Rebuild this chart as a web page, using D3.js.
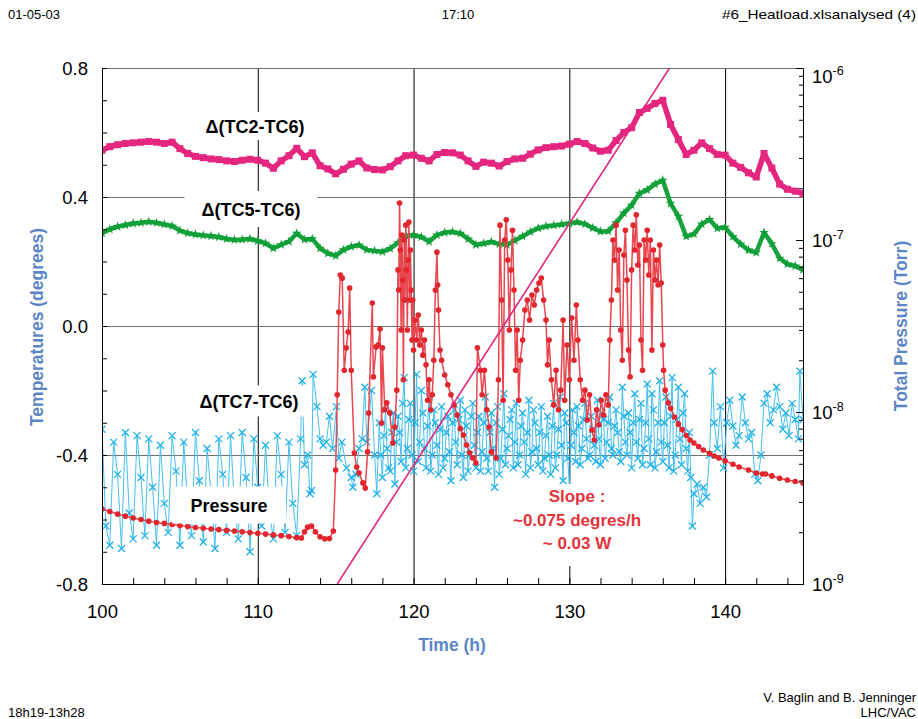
<!DOCTYPE html>
<html lang="en">
<head>
<meta charset="UTF-8">
<title>#6 Heatload</title>
<script src="https://d3js.org/d3.v7.min.js"></script>
<style>
  body { margin: 0; background: #fff; }
  svg { display: block; font-family: "Liberation Sans", Arial, Helvetica, sans-serif; }
  .small { font-size: 13px; fill: #000; }
  .tick text { font-size: 18.5px; fill: #000; font-family: "Liberation Sans", Arial, sans-serif; }
  .title { font-size: 17.5px; font-weight: bold; fill: #5b86c6; }
  .lbl { font-size: 18px; font-weight: bold; fill: #000; }
  .slope { font-size: 17px; font-weight: bold; fill: #e3343c; }
</style>
</head>
<body>
<svg width="918" height="719"></svg>
<script>
// time grid for the two smooth temperature differences
const gridStart = 100, gridStep = 0.5;

// Δ(TC2-TC6), degrees, every 0.5 h from 100 h to 145 h
const tc2Values = [
  0.545, 0.556, 0.562, 0.566, 0.568, 0.570, 0.572, 0.570, 0.566, 0.570,
  0.550, 0.535, 0.526, 0.522, 0.518, 0.516, 0.512, 0.510, 0.514, 0.517,
  0.514, 0.505, 0.489, 0.512, 0.528, 0.551, 0.525, 0.537, 0.497, 0.487,
  0.472, 0.486, 0.502, 0.512, 0.490, 0.485, 0.484, 0.494, 0.512, 0.528,
  0.530, 0.520, 0.512, 0.532, 0.538, 0.537, 0.530, 0.512, 0.495, 0.508,
  0.505, 0.496, 0.510, 0.518, 0.520, 0.533, 0.546, 0.553, 0.556, 0.558,
  0.564, 0.572, 0.566, 0.552, 0.542, 0.545, 0.575, 0.600, 0.615, 0.662,
  0.675, 0.690, 0.700, 0.625, 0.578, 0.532, 0.545, 0.568, 0.550, 0.532,
  0.530, 0.505, 0.492, 0.475, 0.462, 0.535, 0.490, 0.440, 0.424, 0.418,
  0.411
];

// Δ(TC5-TC6), degrees, same grid
const tc5Values = [
  0.288, 0.300, 0.308, 0.313, 0.318, 0.320, 0.323, 0.320, 0.315, 0.310,
  0.296, 0.288, 0.284, 0.281, 0.279, 0.276, 0.270, 0.267, 0.268, 0.270,
  0.264, 0.256, 0.241, 0.252, 0.262, 0.287, 0.268, 0.270, 0.241, 0.225,
  0.218, 0.236, 0.246, 0.251, 0.236, 0.233, 0.230, 0.240, 0.258, 0.280,
  0.282, 0.276, 0.262, 0.282, 0.290, 0.292, 0.287, 0.270, 0.252, 0.256,
  0.261, 0.254, 0.252, 0.265, 0.278, 0.292, 0.303, 0.309, 0.312, 0.315,
  0.318, 0.322, 0.316, 0.304, 0.293, 0.294, 0.320, 0.350, 0.375, 0.411,
  0.422, 0.440, 0.452, 0.380, 0.340, 0.278, 0.285, 0.316, 0.330, 0.303,
  0.306, 0.277, 0.254, 0.235, 0.228, 0.290, 0.255, 0.210, 0.192, 0.186,
  0.174
];

// Δ(TC7-TC6), [hour, degrees]
const tc7Points = [
  [100.00,-0.32],[100.25,-0.62],[100.50,-0.68],[100.75,-0.36],[101.00,-0.46],[101.25,-0.69],
  [101.50,-0.33],[101.75,-0.58],[102.00,-0.66],[102.25,-0.34],[102.50,-0.47],[102.75,-0.65],
  [103.00,-0.35],[103.25,-0.50],[103.50,-0.68],[103.75,-0.37],[104.00,-0.55],[104.25,-0.64],
  [104.50,-0.34],[104.75,-0.45],[105.00,-0.68],[105.25,-0.36],[105.50,-0.56],[105.75,-0.65],
  [106.00,-0.33],[106.25,-0.48],[106.50,-0.67],[106.75,-0.38],[107.00,-0.52],[107.25,-0.69],
  [107.50,-0.35],[107.75,-0.46],[108.00,-0.64],[108.25,-0.34],[108.50,-0.55],[108.75,-0.66],
  [109.00,-0.33],[109.25,-0.47],[109.50,-0.70],[109.75,-0.35],[110.00,-0.50],[110.25,-0.62],
  [110.50,-0.37],[110.75,-0.58],[111.00,-0.66],[111.25,-0.34],[111.50,-0.46],[111.75,-0.64],
  [112.00,-0.36],[112.25,-0.55],[112.50,-0.65],[112.75,-0.35],[112.85,-0.17],[113.00,-0.43],
  [113.20,-0.40],[113.35,-0.52],[113.45,-0.51],[113.55,-0.15],[113.80,-0.25],[114.00,-0.35],
  [114.20,-0.37],[114.40,-0.36],[114.60,-0.28],[114.80,-0.38],[115.05,-0.25],[115.20,-0.41],
  [115.40,-0.36],[115.70,-0.44],[116.00,-0.47],[116.10,-0.50],[116.30,-0.46],[116.50,-0.38],
  [116.70,-0.35],[116.87,-0.19],[117.00,-0.36],[117.30,-0.20],[117.50,-0.40],[117.64,-0.52],
  [117.8,-0.30],[118.0,-0.47],[118.2,-0.26],[118.4,-0.44],[118.6,-0.33],[118.8,-0.49],
  [119.0,-0.28],[119.2,-0.42],[119.4,-0.16],[119.6,-0.38],[119.8,-0.24],[120.0,-0.45],
  [120.2,-0.15],[120.4,-0.36],[120.6,-0.27],[120.8,-0.44],[121.0,-0.22],[121.2,-0.40],
  [121.4,-0.30],[121.6,-0.46],[121.8,-0.25],[122.0,-0.41],[122.2,-0.28],[122.4,-0.48],
  [122.6,-0.26],[122.8,-0.43],[123.0,-0.23],[123.2,-0.47],[123.4,-0.31],[123.6,-0.40],
  [123.8,-0.24],[124.0,-0.44],[124.2,-0.28],[124.4,-0.39],[124.6,-0.22],[124.8,-0.45],
  [125.0,-0.27],[125.2,-0.50],[125.4,-0.25],[125.6,-0.41],[125.8,-0.21],[126.0,-0.38],
  [126.2,-0.29],[126.4,-0.44],[126.6,-0.24],[126.8,-0.40],[127.0,-0.27],[127.2,-0.46],
  [127.4,-0.23],[127.6,-0.39],[127.8,-0.30],[128.0,-0.43],[128.2,-0.25],[128.4,-0.41],
  [128.6,-0.28],[128.8,-0.46],[129.0,-0.24],[129.2,-0.40],[129.4,-0.22],[129.6,-0.48],
  [129.8,-0.30],[130.0,-0.50],[130.2,-0.26],[130.4,-0.42],[130.6,-0.31],[130.8,-0.38],
  [131.0,-0.24],[131.2,-0.41],[131.4,-0.28],[131.6,-0.37],[131.8,-0.23],[132.0,-0.43],
  [132.2,-0.29],[132.4,-0.36],[132.6,-0.22],[132.8,-0.40],[133.0,-0.26],[133.2,-0.39],
  [133.4,-0.19],[133.6,-0.36],[133.8,-0.27],[134.0,-0.44],[134.2,-0.21],[134.4,-0.41],
  [134.6,-0.24],[134.8,-0.38],[135.0,-0.18],[135.2,-0.43],[135.4,-0.26],[135.6,-0.39],
  [135.8,-0.17],[136.0,-0.42],[136.2,-0.22],[136.4,-0.44],[136.6,-0.16],[136.8,-0.40],
  [137.0,-0.19],[137.2,-0.43],[137.4,-0.21],[137.6,-0.45],[137.8,-0.47],[137.9,-0.62],
  [138.0,-0.52],[138.2,-0.49],[138.4,-0.55],[138.6,-0.50],[138.8,-0.53],[139.0,-0.40],
  [139.2,-0.14],[139.3,-0.30],[139.5,-0.38],[139.7,-0.25],[139.9,-0.44],[140.1,-0.30],
  [140.3,-0.23],[140.5,-0.31],[140.7,-0.37],[140.9,-0.34],[141.1,-0.22],[141.3,-0.30],
  [141.5,-0.35],[141.7,-0.33],[141.9,-0.46],[142.1,-0.48],[142.3,-0.40],[142.5,-0.24],
  [142.7,-0.21],[142.9,-0.30],[143.1,-0.26],[143.3,-0.19],[143.5,-0.25],[143.7,-0.32],
  [143.9,-0.27],[144.1,-0.34],[144.3,-0.24],[144.5,-0.29],[144.7,-0.35],[144.8,-0.14],
  [145.0,-0.29]
];

// Δ(TC7-TC6), extra readings in the dense stretch (odd tenths of an hour)
const tc7DensePoints = [
  [117.9,-0.40],[118.1,-0.34],[118.3,-0.38],[118.5,-0.45],[118.7,-0.27],[118.9,-0.36],
  [119.1,-0.33],[119.3,-0.24],[119.5,-0.44],[119.7,-0.29],[119.9,-0.40],[120.1,-0.30],
  [120.3,-0.42],[120.5,-0.20],[120.7,-0.38],[120.9,-0.31],[121.1,-0.45],[121.3,-0.26],
  [121.5,-0.37],[121.7,-0.32],[121.9,-0.44],[122.1,-0.33],[122.3,-0.39],[122.5,-0.30],
  [122.7,-0.36],[122.9,-0.29],[123.1,-0.40],[123.3,-0.26],[123.5,-0.45],[123.7,-0.28],
  [123.9,-0.37],[124.1,-0.33],[124.3,-0.45],[124.5,-0.30],[124.7,-0.41],[124.9,-0.33],
  [125.1,-0.38],[125.3,-0.30],[125.5,-0.46],[125.7,-0.32],[125.9,-0.43],[126.1,-0.34],
  [126.3,-0.26],[126.5,-0.36],[126.7,-0.43],[126.9,-0.31],[127.1,-0.36],[127.3,-0.33],
  [127.5,-0.44],[127.7,-0.26],[127.9,-0.38],[128.1,-0.33],[128.3,-0.45],[128.5,-0.34],
  [128.7,-0.40],[128.9,-0.31],[129.1,-0.44],[129.3,-0.32],[129.5,-0.37],[129.7,-0.27],
  [129.9,-0.41],[130.1,-0.37],[130.3,-0.33],[130.5,-0.25],[130.7,-0.43],[130.9,-0.29],
  [131.1,-0.35],[131.3,-0.40],[131.5,-0.32],[131.7,-0.42],[131.9,-0.35],[132.1,-0.27],
  [132.3,-0.41],[132.5,-0.30],[132.7,-0.38],[132.9,-0.31],[133.1,-0.33],[133.3,-0.42],
  [133.5,-0.28],[133.7,-0.40],[133.9,-0.33],[134.1,-0.30],[134.3,-0.36],[134.5,-0.29],
  [134.7,-0.43],[134.9,-0.30],[135.1,-0.35],[135.3,-0.21],[135.5,-0.44],[135.7,-0.30],
  [135.9,-0.36],[136.1,-0.30],[136.3,-0.37],[136.5,-0.28],[136.7,-0.45],[136.9,-0.29],
  [137.1,-0.35],[137.3,-0.27],[137.5,-0.38],[137.7,-0.33]
];

// total pressure, [hour, Torr]
const pressurePoints = [
  [100.0,2.73e-9],[100.5,2.64e-9],[101.0,2.55e-9],[101.5,2.48e-9],[102.0,2.42e-9],[102.5,2.37e-9],
  [103.0,2.32e-9],[103.5,2.28e-9],[104.0,2.25e-9],[104.5,2.22e-9],[105.0,2.19e-9],[105.5,2.16e-9],
  [106.0,2.13e-9],[106.5,2.11e-9],[107.0,2.09e-9],[107.5,2.07e-9],[108.0,2.05e-9],[108.5,2.03e-9],
  [109.0,2.01e-9],[109.5,1.99e-9],[110.0,1.97e-9],[110.5,1.95e-9],[111.0,1.93e-9],[111.5,1.91e-9],
  [112.0,1.89e-9],[112.5,1.86e-9],[112.8,1.85e-9],[113.0,2.01e-9],[113.2,2.14e-9],[113.45,2.17e-9],
  [113.7,2.01e-9],[114.0,1.88e-9],[114.3,1.83e-9],[114.6,1.84e-9],[114.85,2.03e-9],[115.0,4.6e-9],
  [115.1,1.26e-8],[115.2,3.81e-8],[115.3,6.26e-8],[115.42,6.0e-8],[115.55,1.75e-8],[115.68,2.36e-8],
  [115.8,2.92e-8],[115.9,5.26e-8],[116.0,1.75e-8],[116.2,5.78e-9],[116.35,4.79e-9],[116.5,4.42e-9],
  [116.75,3.87e-9],[116.9,3.61e-9],[117.05,5.86e-9],[117.12,9.87e-9],[117.35,4.3e-8],[117.42,1.6e-8],
  [117.6,2.39e-8],[117.72,2.45e-8],[117.85,3.04e-8],[117.95,8.63e-9],[118.0,2.36e-8],[118.15,1.03e-8],
  [118.28,1.13e-8],[118.47,9.87e-9],[118.67,6.6e-9],[118.8,8.18e-9],[118.92,1.34e-8],[119.0,6.7e-8],
  [119.05,5.12e-8],[119.1,1.64e-7],[119.15,8.75e-8],[119.2,3.0e-8],[119.25,1.07e-7],[119.3,5.85e-8],
  [119.35,1.54e-8],[119.4,1.0e-7],[119.45,4.48e-8],[119.5,1.22e-7],[119.55,6.7e-8],[119.6,3.0e-8],
  [119.65,7.65e-8],[119.7,1.27e-7],[119.75,4.48e-8],[119.8,8.75e-8],[119.85,5.12e-8],[119.9,2.62e-8],
  [119.95,4.48e-8],[120.0,2.29e-8],[120.1,3.43e-8],[120.2,2.62e-8],[120.3,3.66e-8],[120.4,2.45e-8],
  [120.5,3.0e-8],[120.6,2.14e-8],[120.7,2.62e-8],[120.8,1.88e-8],[120.9,1.17e-8],[121.0,1.54e-8],
  [121.1,1.03e-8],[121.2,1.26e-8],[121.3,2.0e-8],[121.4,5.12e-8],[121.5,8.5e-8],[121.55,5.48e-8],
  [121.6,3.92e-8],[121.7,2.29e-8],[121.8,2.0e-8],[122.0,1.64e-8],[122.2,1.44e-8],[122.4,1.26e-8],
  [122.6,1.1e-8],[122.8,9.6e-9],[123.0,8.0e-9],[123.2,7.35e-9],[123.4,6.43e-9],[123.6,5.8e-9],
  [123.8,5.4e-9],[124.0,5.05e-9],[124.1,2.36e-8],[124.3,1.75e-8],[124.4,1.26e-8],[124.55,1.75e-8],
  [124.7,1.03e-8],[124.85,8.18e-9],[125.0,5.86e-9],[125.3,5.4e-9],[125.45,1.54e-8],[125.55,1.22e-7],
  [125.65,4.48e-8],[125.75,1.17e-8],[125.85,1.0e-7],[125.95,1.31e-7],[126.05,7.65e-8],[126.15,3.0e-8],
  [126.25,6.7e-8],[126.35,1.14e-7],[126.45,5.12e-8],[126.55,1.75e-8],[126.65,3.0e-8],[126.75,1.17e-8],
  [126.85,2.0e-8],[127.0,2.62e-8],[127.15,3.92e-8],[127.3,4.48e-8],[127.45,3.43e-8],[127.6,4.79e-8],
  [127.75,4.19e-8],[127.9,5.12e-8],[128.05,5.62e-8],[128.2,6.01e-8],[128.35,4.48e-8],[128.5,3.43e-8],
  [128.6,1.88e-8],[128.7,2.62e-8],[128.85,1.54e-8],[129.0,1.1e-8],[129.15,1.75e-8],[129.3,1.03e-8],
  [129.45,1.34e-8],[129.6,3.43e-8],[129.7,1.17e-8],[129.85,2.45e-8],[130.0,1.54e-8],[130.15,3.52e-8],
  [130.3,2.0e-8],[130.45,4.19e-8],[130.55,2.62e-8],[130.7,1.54e-8],[130.85,1.17e-8],[131.0,1.34e-8],
  [131.15,8.98e-9],[131.3,1.26e-8],[131.45,7.86e-9],[131.6,6.88e-9],[131.75,1.03e-8],[131.9,8.4e-9],
  [132.05,1.17e-8],[132.2,9.6e-9],[132.35,1.26e-8],[132.5,1.1e-8],[132.6,2.62e-8],[132.7,4.48e-8],
  [132.8,1.0e-7],[132.9,7.65e-8],[133.0,1.22e-7],[133.1,5.12e-8],[133.2,8.75e-8],[133.3,3.0e-8],
  [133.4,2.0e-8],[133.5,8.18e-8],[133.6,1.14e-7],[133.7,5.85e-8],[133.8,2.29e-8],[133.9,1.6e-8],
  [134.0,6.7e-8],[134.1,1.22e-7],[134.2,8.75e-8],[134.3,1.4e-7],[134.4,7.16e-8],[134.5,9.35e-8],
  [134.6,2.62e-8],[134.7,1.75e-8],[134.8,1.0e-7],[134.9,7.65e-8],[135.0,1.14e-7],[135.1,6.26e-8],
  [135.2,1.0e-7],[135.3,2.29e-8],[135.4,8.75e-8],[135.5,5.85e-8],[135.6,7.65e-8],[135.7,5.48e-8],
  [135.8,9.35e-8],[135.9,5.62e-8],[136.0,2.45e-8],[136.05,1.75e-8],[136.15,1.34e-8],[136.35,1.13e-8],
  [136.5,1.05e-8],[136.75,9.35e-9],[137.0,8.5e-9],[137.25,7.9e-9],[137.5,7.3e-9],[137.75,6.88e-9],
  [138.0,6.6e-9],[138.3,6.3e-9],[138.6,6.01e-9],[139.0,5.75e-9],[139.3,5.55e-9],[139.6,5.4e-9],
  [140.0,5.2e-9],[140.5,4.97e-9],[140.9,4.79e-9],[141.5,4.6e-9],[142.0,4.42e-9],[142.4,4.36e-9],
  [142.6,4.36e-9],[143.0,4.25e-9],[143.5,4.12e-9],[144.0,4.02e-9],[144.5,3.94e-9],[145.0,3.87e-9]
];

// fitted temperature rise: start point and rate (degrees per hour)
const slopeStart = [115.1, -0.8];
const slopeRate = 0.075;

const tempTicks = [0.8, 0.4, 0.0, -0.4, -0.8];
const timeTicks = [100, 110, 120, 130, 140];
const pressureDecades = [1e-9, 1e-8, 1e-7, 1e-6];

const svg = d3.select("svg");
const plotLeft = 102, plotRight = 803, plotTop = 68, plotBottom = 584;

const x = d3.scaleLinear().domain([100, 145]).range([plotLeft, plotRight]);
const yT = d3.scaleLinear().domain([-0.8, 0.8]).range([plotBottom, plotTop]);
const yP = d3.scaleLog().domain([1e-9, 1e-6]).range([plotBottom, plotTop]);

svg.append("rect").attr("width", 918).attr("height", 719).attr("fill", "#fff");

// header / footer
svg.append("text").attr("class", "small").attr("x", 8).attr("y", 18.5).text("01-05-03");
svg.append("text").attr("class", "small").attr("x", 458).attr("y", 18.5).attr("text-anchor", "middle").text("17:10");
svg.append("text").attr("class", "small").attr("x", 722).attr("y", 18.5)
  .attr("textLength", 194).attr("lengthAdjust", "spacingAndGlyphs").text("#6_Heatload.xlsanalysed (4)");
svg.append("text").attr("class", "small").attr("x", 8).attr("y", 716.5).text("18h19-13h28");
svg.append("text").attr("class", "small").attr("x", 916).attr("y", 701.5).attr("text-anchor", "end")
  .text("V. Baglin and B. Jenninger");
svg.append("text").attr("class", "small").attr("x", 916).attr("y", 716.5).attr("text-anchor", "end")
  .text("LHC/VAC");

// grid
svg.append("g").attr("transform", `translate(0,${plotBottom})`)
  .call(d3.axisBottom(x).tickValues([110, 120, 130, 140]).tickSize(-(plotBottom - plotTop)).tickFormat(""))
  .call(g => g.select(".domain").remove())
  .call(g => g.selectAll("line").attr("stroke", "#000"));
svg.append("g").attr("transform", `translate(${plotLeft},0)`)
  .call(d3.axisLeft(yT).tickValues([0.8, 0.4, 0, -0.4]).tickSize(-(plotRight - plotLeft)).tickFormat(""))
  .call(g => g.select(".domain").remove())
  .call(g => g.selectAll("line").attr("stroke", "#707070"));

// data
svg.append("clipPath").attr("id", "plot").append("rect")
  .attr("x", plotLeft).attr("y", plotTop).attr("width", plotRight - plotLeft).attr("height", plotBottom - plotTop);
const plot = svg.append("g").attr("clip-path", "url(#plot)");

const gridHour = i => gridStart + i * gridStep;
const tc2 = tc2Values.map((v, i) => [gridHour(i), v]);
const tc5 = tc5Values.map((v, i) => [gridHour(i), v]);
const tc7 = tc7Points.concat(tc7DensePoints).sort((a, b) => a[0] - b[0]);

const lineT = d3.line().x(d => x(d[0])).y(d => yT(d[1]));
const lineP = d3.line().x(d => x(d[0])).y(d => yP(d[1]));

// TC7-TC6 (blue crosses)
plot.append("path").datum(tc7).attr("d", lineT)
  .attr("fill", "none").attr("stroke", "#45bfee").attr("stroke-width", 1);
plot.append("g").selectAll("path").data(tc7).join("path")
  .attr("transform", d => `translate(${x(d[0])},${yT(d[1])})`)
  .attr("d", "M-3.5,-3.5L3.5,3.5M-3.5,3.5L3.5,-3.5")
  .attr("stroke", "#1fb1ea").attr("stroke-width", 1.3).attr("fill", "none");

// TC5-TC6 (green)
plot.append("path").datum(tc5).attr("d", lineT)
  .attr("fill", "none").attr("stroke", "#16a33c").attr("stroke-width", 4.5)
  .attr("stroke-linejoin", "round");
plot.append("g").selectAll("path").data(tc5).join("path")
  .attr("transform", d => `translate(${x(d[0])},${yT(d[1])})`)
  .attr("d", d3.symbol(d3.symbolStar, 30)())
  .attr("fill", "#0f9f37");

// TC2-TC6 (pink squares)
plot.append("path").datum(tc2).attr("d", lineT)
  .attr("fill", "none").attr("stroke", "#e4267f").attr("stroke-width", 5.5)
  .attr("stroke-linejoin", "round");
plot.append("g").selectAll("rect").data(tc2).join("rect")
  .attr("x", d => x(d[0]) - 3.5).attr("y", d => yT(d[1]) - 3.5)
  .attr("width", 7).attr("height", 7).attr("fill", "#e4267f");

// pressure (red)
plot.append("path").datum(pressurePoints).attr("d", lineP)
  .attr("fill", "none").attr("stroke", "#e8474f").attr("stroke-width", 1.5);
plot.append("g").selectAll("circle").data(pressurePoints).join("circle")
  .attr("cx", d => x(d[0])).attr("cy", d => yP(d[1])).attr("r", 2.8)
  .attr("fill", "#e1262e");

// slope line
const slopeEnd = [slopeStart[0] + (0.8 - slopeStart[1]) / slopeRate, 0.8];
plot.append("path").datum([slopeStart, slopeEnd]).attr("d", lineT)
  .attr("stroke", "#e4267f").attr("stroke-width", 1.6).attr("fill", "none");

// axes
const fmtT = d => (Math.abs(d) < 1e-9 ? 0 : d).toFixed(1);
const minorT = d3.range(-8, 9).map(i => i / 10);
svg.append("g").attr("transform", `translate(${plotLeft},0)`)
  .call(d3.axisLeft(yT).tickValues(minorT).tickSize(-5).tickPadding(14)
    .tickFormat(d => tempTicks.some(t => Math.abs(t - d) < 1e-9) ? fmtT(d) : ""))
  .call(g => g.select(".domain").attr("stroke", "#000"))
  .call(g => g.selectAll("text").attr("dy", "0.36em"));

svg.append("g").attr("transform", `translate(0,${plotBottom})`)
  .call(d3.axisBottom(x).tickValues(d3.range(100, 145, 2)).tickSize(-6).tickPadding(21)
    .tickFormat(d => timeTicks.includes(d) ? d : ""))
  .call(g => g.select(".domain").attr("stroke", "#000"));

const minorP = [];
pressureDecades.slice(0, 3).forEach(p => { for (let k = 2; k <= 9; k++) minorP.push(p * k); });
const rightAxis = svg.append("g").attr("transform", `translate(${plotRight},0)`);
rightAxis.call(d3.axisRight(yP).tickValues(minorP).tickSize(-4).tickFormat(""))
  .call(g => g.select(".domain").attr("stroke", "#000"));
rightAxis.append("g")
  .call(d3.axisRight(yP).tickValues(pressureDecades).tickSize(-7).tickFormat(""))
  .call(g => g.select(".domain").remove());

const decLabels = svg.append("g");
pressureDecades.forEach(p => {
  const cy = Math.max(yP(p), 76);
  const t = decLabels.append("text").attr("x", 812).attr("y", cy + 6.5)
    .attr("font-size", 18.5).attr("fill", "#000");
  t.append("tspan").text("10");
  t.append("tspan").attr("font-size", 12.5).attr("dy", -8).text(String(Math.round(Math.log10(p))));
});

// axis titles
svg.append("text").attr("class", "title").attr("text-anchor", "middle")
  .attr("transform", "translate(43,327) rotate(-90)").text("Temperatures (degrees)");
svg.append("text").attr("class", "title").attr("text-anchor", "middle")
  .attr("transform", "translate(907,326) rotate(-90)").text("Total Pressure (Torr)");
svg.append("text").attr("class", "title").attr("text-anchor", "middle")
  .attr("x", 452).attr("y", 651).text("Time (h)");

// labels with white boxes
const labels = [
  { text: "\u0394(TC2-TC6)", cx: 255, cy: 126, w: 120, h: 28 },
  { text: "\u0394(TC5-TC6)", cx: 251, cy: 209, w: 133, h: 36 },
  { text: "\u0394(TC7-TC6)", cx: 249, cy: 401, w: 118, h: 31 },
  { text: "Pressure", cx: 229, cy: 505, w: 114, h: 37 }
];
labels.forEach(l => {
  svg.append("rect").attr("x", l.cx - l.w / 2).attr("y", l.cy - l.h / 2)
    .attr("width", l.w).attr("height", l.h).attr("fill", "#fff");
  svg.append("text").attr("class", "lbl").attr("text-anchor", "middle")
    .attr("x", l.cx).attr("y", l.cy + 6.5).text(l.text);
});

svg.append("rect").attr("x", 500).attr("y", 484).attr("width", 155).attr("height", 82).attr("fill", "#fff");
["Slope :", "~0.075 degres/h", "~ 0.03 W"].forEach((s, i) => {
  svg.append("text").attr("class", "slope").attr("text-anchor", "middle")
    .attr("x", 577).attr("y", 502 + i * 23.5).text(s);
});
</script>
</body>
</html>
